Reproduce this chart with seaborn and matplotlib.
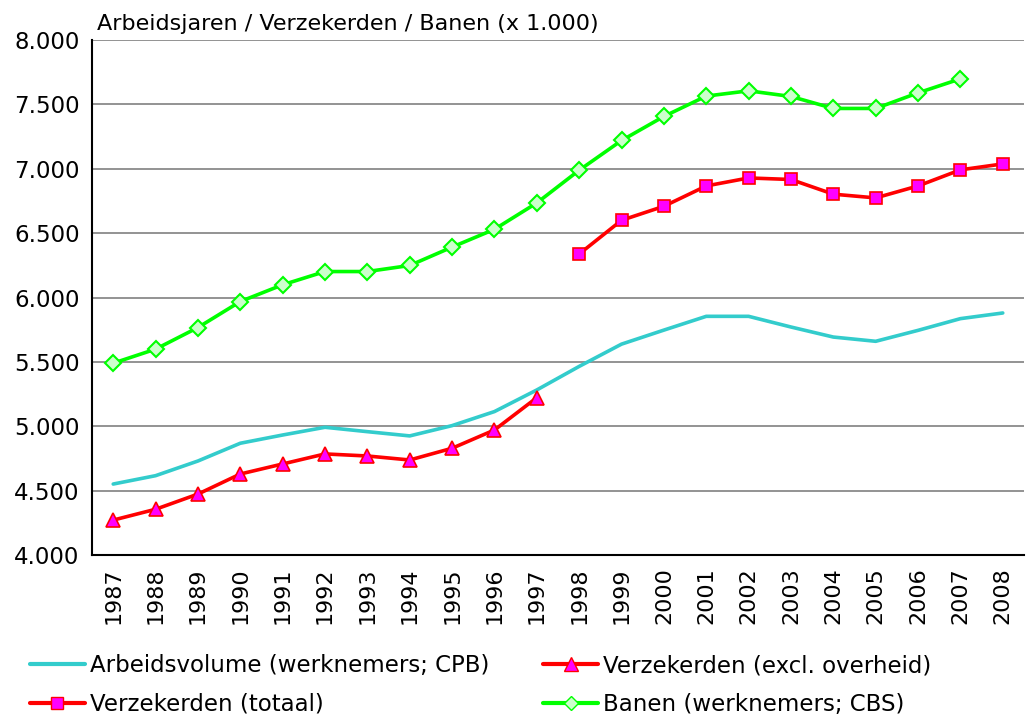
import matplotlib
matplotlib.use("Agg")
import matplotlib.pyplot as plt
import numpy as np
import pandas as pd
import seaborn as sns
from matplotlib.lines import Line2D
from matplotlib.ticker import FuncFormatter, MultipleLocator

years = list(range(1987, 2009))
nan = np.nan

# Arbeidsvolume (werknemers; CPB)
arbeidsvolume = [4551, 4616, 4730, 4868, 4932, 4992, 4958, 4925, 5005, 5114, 5282,
                 5465, 5638, 5747, 5854, 5854, 5771, 5693, 5660, 5745, 5836, 5880]
# Verzekerden (excl. overheid)
verz_excl = [4271, 4355, 4473, 4629, 4707, 4785, 4769, 4738, 4829, 4971, 5222,
             nan, nan, nan, nan, nan, nan, nan, nan, nan, nan, nan]
# Verzekerden (totaal)
verz_totaal = [nan, nan, nan, nan, nan, nan, nan, nan, nan, nan, nan,
               6338, 6600, 6709, 6867, 6929, 6917, 6803, 6774, 6867, 6992, 7038]
# Banen (werknemers; CBS)
banen = [5490, 5599, 5767, 5969, 6099, 6202, 6202, 6249, 6392, 6530, 6735,
         6989, 7220, 7407, 7565, 7606, 7562, 7469, 7469, 7590, 7699, nan]

df = pd.DataFrame({"jaar": years, "arbeidsvolume": arbeidsvolume, "verz_excl": verz_excl,
                   "verz_totaal": verz_totaal, "banen": banen})

sns.set_style("white")
plt.rcParams["font.family"] = ["DejaVu Sans"]
plt.rcParams["text.color"] = "black"
plt.rcParams["xtick.color"] = "black"
plt.rcParams["ytick.color"] = "black"

fig = plt.figure(figsize=(10.26, 7.16), dpi=100)
ax = fig.add_axes([0.0897, 0.2249, 0.9083, 0.7191])

cyan, red, green = "#33CCCC", "#FF0000", "#00FF00"

sns.lineplot(data=df, x="jaar", y="arbeidsvolume", color=cyan, linewidth=2.6, ax=ax, zorder=3)
sns.lineplot(data=df, x="jaar", y="verz_excl", color=red, linewidth=2.6, marker="^",
             markersize=10.5, markerfacecolor="#FF00FF", markeredgecolor=red, markeredgewidth=1.2,
             ax=ax, zorder=4)
sns.lineplot(data=df, x="jaar", y="verz_totaal", color=red, linewidth=2.6, marker="s",
             markersize=8.5, markerfacecolor="#FF00FF", markeredgecolor=red, markeredgewidth=1.2,
             ax=ax, zorder=4)
sns.lineplot(data=df, x="jaar", y="banen", color=green, linewidth=2.6, marker="D",
             markersize=8, markerfacecolor="#CCFFCC", markeredgecolor=green, markeredgewidth=1.5,
             ax=ax, zorder=4)

ax.set_xlim(1986.5, 2008.5)
ax.set_ylim(4000, 8000)
ax.yaxis.set_major_locator(MultipleLocator(500))
ax.yaxis.set_major_formatter(FuncFormatter(lambda v, p: f"{v:,.0f}".replace(",", ".")))
ax.set_xticks(years)
ax.set_xticklabels([str(y) for y in years], rotation=90, fontsize=16)
ax.set_xticks(np.arange(1986.5, 2009, 1), minor=True)
ax.tick_params(axis="x", which="major", length=0, pad=9)
ax.tick_params(axis="x", which="minor", length=6, width=1, color="black", direction="out")
ax.tick_params(axis="y", which="major", length=6, width=1, color="black", direction="out",
               labelsize=16.5, pad=3)
ax.set_xlabel("")
ax.set_ylabel("")

ax.grid(axis="y", color="#808080", linewidth=1.2)
ax.set_axisbelow(True)
for s in ["top", "right"]:
    ax.spines[s].set_visible(False)
for s in ["left", "bottom"]:
    ax.spines[s].set_color("black")
    ax.spines[s].set_linewidth(1.5)

fig.text(0.0945, 0.952, "Arbeidsjaren / Verzekerden / Banen (x 1.000)", fontsize=16,
         ha="left", va="bottom")

handles = [
    Line2D([], [], color=cyan, linewidth=3),
    Line2D([], [], color=red, linewidth=3, marker="s", markersize=8,
           markerfacecolor="#FF00FF", markeredgecolor=red),
    Line2D([], [], color=red, linewidth=3, marker="^", markersize=10,
           markerfacecolor="#FF00FF", markeredgecolor=red),
    Line2D([], [], color=green, linewidth=3, marker="D", markersize=7.5,
           markerfacecolor="#CCFFCC", markeredgecolor=green),
]
labels = ["Arbeidsvolume (werknemers; CPB)", "Verzekerden (totaal)",
          "Verzekerden (excl. overheid)", "Banen (werknemers; CBS)"]
fig.legend(handles, labels, ncol=2, loc="upper left", bbox_to_anchor=(0.029, 0.086),
           frameon=False, fontsize=16.5, handlelength=2.4, handletextpad=0.22,
           columnspacing=2.35, labelspacing=0.67, borderpad=0, borderaxespad=0)

fig.savefig("out.png", dpi=100)
